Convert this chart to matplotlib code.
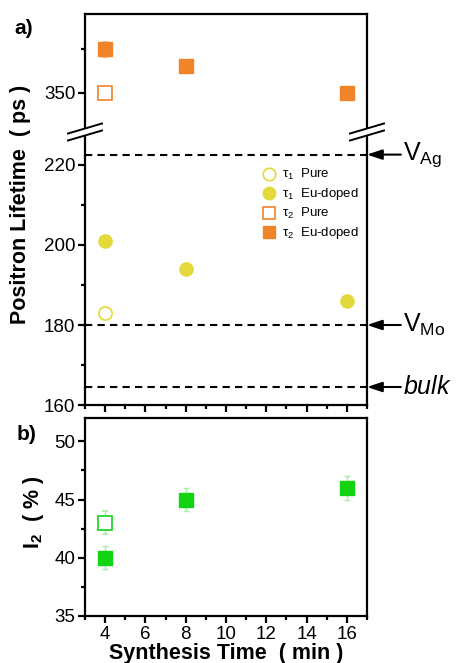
import matplotlib
matplotlib.use('Agg')
import matplotlib.pyplot as plt
from matplotlib.lines import Line2D
from matplotlib.patches import Polygon
from matplotlib.ticker import MultipleLocator

plt.rcParams['font.family'] = ['Liberation Sans', 'DejaVu Sans']
plt.rcParams['mathtext.fontset'] = 'custom'
plt.rcParams['mathtext.rm'] = 'Liberation Sans'
plt.rcParams['mathtext.it'] = 'Liberation Sans:italic'
plt.rcParams['mathtext.bf'] = 'Liberation Sans:bold'

# synthesis time (min)
time_eu = [4, 8, 16]
time_pure = [4]

# positron lifetimes (ps)
tau1_pure = [183]
tau1_eu = [201, 194, 186]
tau1_eu_err = [0.6, 0.6, 0.6]
tau2_pure = [350]
tau2_pure_err = [1.3]
tau2_eu = [360, 356, 350]
tau2_eu_err = [1.9, 1.0, 1.0]

# reference lifetimes (ps)
ref_labels = ['V$_{\\mathrm{Ag}}$', 'V$_{\\mathrm{Mo}}$', '$\\mathit{bulk}$']
ref_values = [222.6, 180.0, 164.5]

# second component intensity (%)
i2_pure = [43]
i2_pure_err = [1.0]
i2_eu = [40, 45, 46]
i2_eu_err = [1.0, 1.0, 1.0]

YELLOW = '#E4D93A'
ORANGE = '#F08428'
GREEN = '#12D412'

W, H = 457, 663
fig = plt.figure(figsize=(W / 100, H / 100), dpi=100)


def fbox(x0, y0, x1, y1):
    # pixel box (top-left origin) -> figure fraction rect
    return [x0 / W, 1 - y1 / H, (x1 - x0) / W, (y1 - y0) / H]


ax_up = fig.add_axes(fbox(85, 14, 367, 132))
ax_lo = fig.add_axes(fbox(85, 132, 367, 405))
ax_b = fig.add_axes(fbox(85, 418, 367, 616))

lw = 1.6
for ax in (ax_up, ax_lo, ax_b):
    for s in ax.spines.values():
        s.set_linewidth(lw)
    ax.set_xlim(3, 17)
    ax.xaxis.set_major_locator(MultipleLocator(2))
    ax.xaxis.set_minor_locator(MultipleLocator(1))
    ax.tick_params(axis='both', which='major', direction='out', length=5,
                   width=lw, labelsize=13.5, pad=2, top=False, right=False)
    ax.tick_params(axis='both', which='minor', direction='out', length=3,
                   width=lw, top=False, right=False)

ax_up.spines['bottom'].set_visible(False)
ax_up.tick_params(axis='x', which='both', bottom=False, labelbottom=False)
ax_lo.spines['top'].set_visible(False)
ax_lo.tick_params(axis='x', which='both', labelbottom=False)

# upper part: tau2
ax_up.set_ylim(341, 368)
ax_up.yaxis.set_major_locator(MultipleLocator(20))
ax_up.yaxis.set_minor_locator(MultipleLocator(10))
ax_up.set_yticks([350])
ms = 9.5
ax_up.errorbar(time_pure, tau2_pure, yerr=tau2_pure_err, fmt='s', ms=ms,
               mfc='white', mec=ORANGE, mew=1.2, ecolor='#F8C9A3',
               elinewidth=1, capsize=2)
ax_up.errorbar(time_eu, tau2_eu, yerr=tau2_eu_err, fmt='s', ms=ms,
               mfc=ORANGE, mec=ORANGE, ecolor='#F8C9A3', elinewidth=1,
               capsize=2)

# lower part: tau1 + reference levels
ax_lo.set_ylim(160, 228.25)
ax_lo.yaxis.set_major_locator(MultipleLocator(20))
ax_lo.yaxis.set_minor_locator(MultipleLocator(10))
ax_lo.errorbar(time_pure, tau1_pure, fmt='o', ms=ms, mfc='white',
               mec=YELLOW, mew=1.2)
ax_lo.errorbar(time_eu, tau1_eu, yerr=tau1_eu_err, fmt='o', ms=ms,
               mfc=YELLOW, mec=YELLOW, ecolor='#F0EAA0', elinewidth=1)
for lab, val in zip(ref_labels, ref_values):
    ax_lo.axhline(val, color='black', lw=1.5, ls=(0, (3.5, 2.5)))
    ax_lo.annotate('', xy=(1.0, val), xycoords=('axes fraction', 'data'),
                   xytext=(1.12, val), textcoords=('axes fraction', 'data'),
                   arrowprops=dict(arrowstyle='-|>,head_length=0.9,head_width=0.3',
                                   color='black', lw=1.5,
                                   shrinkA=0, shrinkB=0),
                   annotation_clip=False)
    ax_lo.text(1.127, val, lab, transform=ax_lo.get_yaxis_transform(),
               fontsize=18, va='center', ha='left', clip_on=False)

handles = [
    Line2D([], [], ls='none', marker='o', ms=9, mfc='white', mec=YELLOW, mew=1.2),
    Line2D([], [], ls='none', marker='o', ms=9, mfc=YELLOW, mec=YELLOW),
    Line2D([], [], ls='none', marker='s', ms=8, mfc='white', mec=ORANGE, mew=1.2),
    Line2D([], [], ls='none', marker='s', ms=8, mfc=ORANGE, mec=ORANGE),
]
labels = ['τ$_1$  Pure', 'τ$_1$  Eu-doped', 'τ$_2$  Pure', 'τ$_2$  Eu-doped']
ax_lo.legend(handles, labels, loc='upper left', bbox_to_anchor=(0.6, 0.895),
             frameon=False, fontsize=9.5, handletextpad=0.4, labelspacing=0.3,
             borderpad=0, handlelength=1.2)

# break marks on both sides of the lifetime axis
for xc in (85, 367):
    y0 = 132
    dx, dy, gap = 17, 5, 3.5
    pts = [(xc - dx, y0 + dy + gap), (xc + dx, y0 - dy + gap),
           (xc + dx, y0 - dy - gap), (xc - dx, y0 + dy - gap)]
    fig.patches.append(Polygon([(x / W, 1 - y / H) for x, y in pts],
                               closed=True, fc='white', ec='none',
                               transform=fig.transFigure, zorder=5))
    for off in (gap, -gap):
        fig.lines.append(Line2D([(xc - dx) / W, (xc + dx) / W],
                                [1 - (y0 + dy + off) / H, 1 - (y0 - dy + off) / H],
                                color='black', lw=1.4,
                                transform=fig.transFigure, zorder=6))

# panel b: intensity
ax_b.set_ylim(35, 52)
ax_b.yaxis.set_major_locator(MultipleLocator(5))
ax_b.yaxis.set_minor_locator(MultipleLocator(2.5))
ax_b.errorbar(time_pure, i2_pure, yerr=i2_pure_err, fmt='s', ms=ms,
              mfc='white', mec=GREEN, mew=1.2, ecolor='#A8EEA8',
              elinewidth=1, capsize=2)
ax_b.errorbar(time_eu, i2_eu, yerr=i2_eu_err, fmt='s', ms=ms,
              mfc=GREEN, mec=GREEN, ecolor='#A8EEA8', elinewidth=1,
              capsize=2)
ax_b.set_xticks([4, 6, 8, 10, 12, 14, 16])
ax_b.set_xlabel('Synthesis Time  ( min )', fontsize=15.5, fontweight='bold',
                labelpad=0)

fig.text(33 / W, 1 - 512 / H, 'I$_\\mathbf{2}$  ( % )', rotation=90,
         fontsize=15.5, fontweight='bold', ha='center', va='center')
fig.text(21 / W, 1 - 204 / H, 'Positron Lifetime  ( ps )', rotation=90,
         fontsize=15.5, fontweight='bold', ha='center', va='center')
fig.text(14 / W, 1 - 28 / H, 'a)', fontsize=15, fontweight='bold',
         ha='left', va='center')
fig.text(17 / W, 1 - 434 / H, 'b)', fontsize=15, fontweight='bold',
         ha='left', va='center')

fig.savefig('out.png', dpi=100)
